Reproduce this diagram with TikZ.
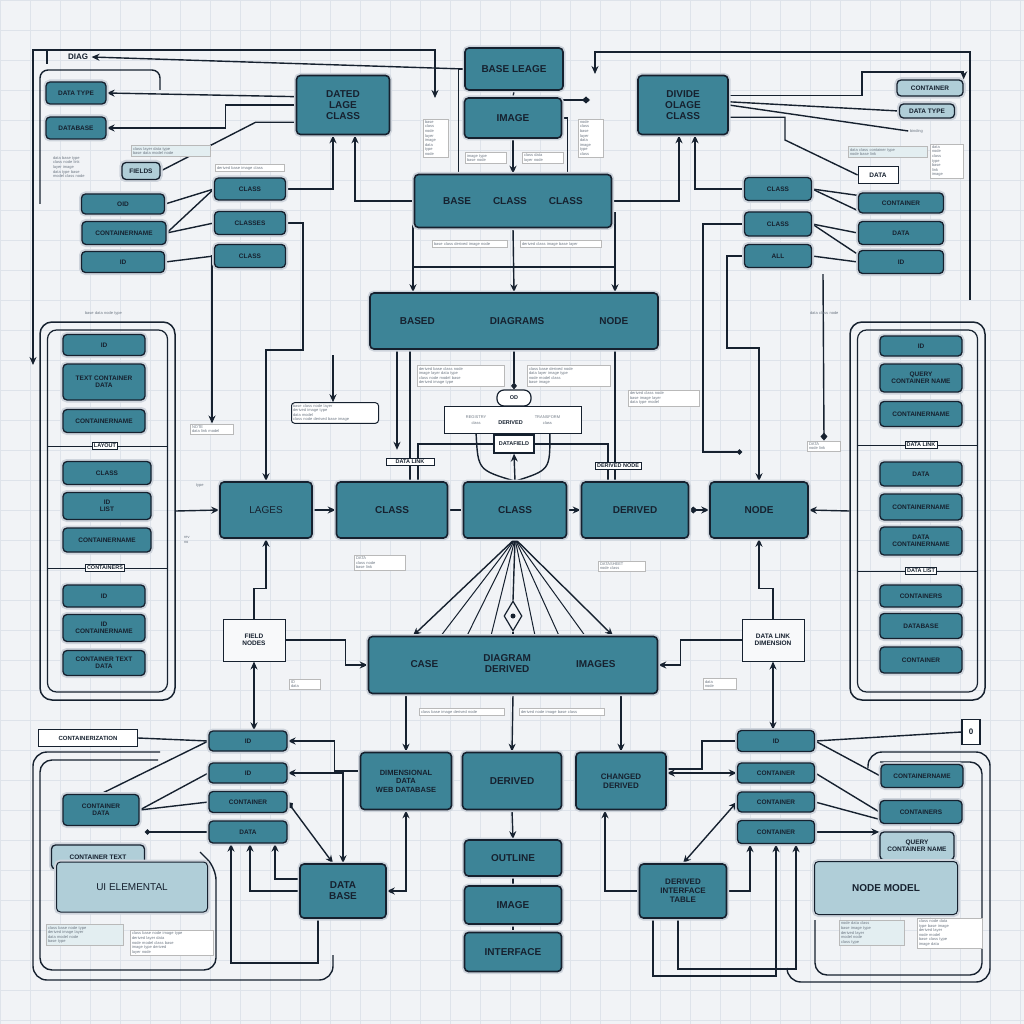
\documentclass[tikz,border=0pt]{standalone}
\usepackage{fontspec}
\setmainfont{Liberation Sans}
\usetikzlibrary{arrows.meta,shapes.geometric}
\definecolor{paper}{RGB}{241,243,246}
\definecolor{gridc}{RGB}{222,227,234}
\definecolor{boxc}{RGB}{61,132,151}
\definecolor{pale}{RGB}{176,206,216}
\definecolor{ink}{RGB}{22,33,47}
\definecolor{halo}{RGB}{206,212,220}
\definecolor{notec}{RGB}{110,120,132}
\pgfdeclarelayer{back}
\pgfdeclarelayer{wires}
\pgfsetlayers{back,wires,main}

\begin{document}
\begin{tikzpicture}[x=1pt,y=-1pt,>={Stealth[length=8pt,width=7pt]},font=\bfseries,
  box/.style={draw=ink,line width=1.6pt,fill=boxc,rounded corners=4pt,text=ink,align=center,inner sep=1pt,
    font=\bfseries\fontsize{10}{11}\selectfont,preaction={draw=halo,line width=5pt}},
  sbox/.style={box,line width=1.3pt,font=\bfseries\fontsize{6.5}{7}\selectfont},
  pbox/.style={box,fill=pale,line width=1pt},
  wbox/.style={draw=ink,line width=.8pt,fill=white,text=ink,align=center,inner sep=1.5pt,font=\bfseries\fontsize{5.5}{6}\selectfont},
  gbox/.style={wbox,fill=paper!50!white,line width=1pt,font=\bfseries\fontsize{6.5}{7.5}\selectfont},
  note/.style={draw=gray!55,line width=.5pt,fill=white,text=notec,font=\fontsize{4}{4.6}\selectfont,align=left,inner sep=1.5pt},
  notep/.style={note,fill=pale!35},
  ntext/.style={note,draw=none,fill=none},
  wire/.style={draw=ink,line width=1.4pt},
  lwire/.style={draw=ink,line width=1pt},
  frame/.style={draw=ink,line width=1.5pt,rounded corners=12pt}]
\useasboundingbox (0,0) rectangle (1024,1024);
\begin{pgfonlayer}{back}
\fill[paper] (0,0) rectangle (1024,1024);
\draw[gridc,step=30pt,line width=.6pt] (0,0) grid (1024,1024);
\end{pgfonlayer}

\node[frame,minimum width=135pt,minimum height=378pt] (lpanel) at (107.5,511) {};
\node[frame,rounded corners=9pt,line width=1.2pt,minimum width=120pt,minimum height=362pt] (lpin) at (107.5,511) {};
\node[frame,minimum width=135pt,minimum height=378pt] (rpanel) at (917.5,511) {};
\node[frame,rounded corners=9pt,line width=1.2pt,minimum width=120pt,minimum height=362pt] (rpin) at (917.5,511) {};

\node[box,minimum width=98pt,minimum height=42pt] (baselg) at (514,69) {BASE LEAGE};
\node[box,minimum width=97pt,minimum height=40pt] (img) at (513,118) {IMAGE};
\node[box,minimum width=93pt,minimum height=59pt] (dated) at (343,105) {DATED\\LAGE\\CLASS};
\node[box,minimum width=90pt,minimum height=59pt] (divide) at (683,105) {DIVIDE\\OLAGE\\CLASS};
\node[box,minimum width=197pt,minimum height=53pt] (bcc) at (513,201) {BASE\hspace{22pt}CLASS\hspace{22pt}CLASS};
\node[box,minimum width=288pt,minimum height=56pt] (bdn) at (514,321) {BASED\hspace{55pt}DIAGRAMS\hspace{55pt}NODE};
\node[box,minimum width=92pt,minimum height=56pt,font=\fontsize{10}{11}\selectfont] (lages) at (266,510) {LAGES};
\node[box,minimum width=111pt,minimum height=56pt] (cls1) at (392,510) {CLASS};
\node[box,minimum width=103pt,minimum height=56pt] (cls2) at (515,510) {CLASS};
\node[box,minimum width=107pt,minimum height=56pt] (derv) at (635,510) {DERIVED};
\node[box,minimum width=98pt,minimum height=56pt] (nd) at (759,510) {NODE};
\node[box,minimum width=289pt,minimum height=57pt] (case) at (513,665)
  {CASE\hspace{45pt}\begin{tabular}{@{}c@{}}DIAGRAM\\DERIVED\end{tabular}\hspace{45pt}IMAGES};
\node[box,minimum width=91pt,minimum height=57pt,font=\bfseries\fontsize{7.5}{8.5}\selectfont] (dim) at (406,781) {DIMENSIONAL\\DATA\\WEB DATABASE};
\node[box,minimum width=99pt,minimum height=57pt] (der2) at (512,781) {DERIVED};
\node[box,minimum width=90pt,minimum height=57pt,font=\bfseries\fontsize{8}{9}\selectfont] (chg) at (621,781) {CHANGED\\DERIVED};
\node[box,minimum width=97pt,minimum height=36pt] (outl) at (513,858) {OUTLINE};
\node[box,minimum width=97pt,minimum height=38pt] (img2) at (513,905) {IMAGE};
\node[box,minimum width=97pt,minimum height=39pt] (intf) at (513,952) {INTERFACE};
\node[box,minimum width=86pt,minimum height=54pt] (dbase) at (343,891) {DATA\\BASE};
\node[box,minimum width=87pt,minimum height=54pt,font=\bfseries\fontsize{8}{9}\selectfont] (dit) at (683,891) {DERIVED\\INTERFACE\\TABLE};

\foreach \n/\x/\y/\w/\h/\t in {tl1/76/93/60/22/DATA TYPE,tl2/76/128/60/22/DATABASE,
  lc1/123/204/83/20/OID,lc2/124/233/84/23/CONTAINERNAME,lc3/123/262/83/21/ID,
  mc1/250/189/71/22/CLASS,mc2/250/223/71/23/CLASSES,mc3/250/256/71/23/CLASS,
  rc1/778/189/67/23/CLASS,rc2/778/224/67/24/CLASS,rc3/778/256/67/23/ALL,
  rr1/901/203/85/20/CONTAINER,rr2/901/233/85/23/DATA,rr3/901/262/85/23/ID,
  lp1/104/345/82/21/ID,lp2/104/382/82/36/TEXT CONTAINER\\DATA,lp3/104/421/82/23/CONTAINERNAME,
  lp4/107/473/88/23/CLASS,lp5/107/506/88/27/ID\\LIST,lp6/107/540/88/24/CONTAINERNAME,
  lp7/104/596/82/22/ID,lp8/104/628/82/27/ID\\CONTAINERNAME,lp9/104/663/82/25/CONTAINER TEXT\\DATA,
  rp1/921/346/82/20/ID,rp2/921/378/82/28/QUERY\\CONTAINER NAME,rp3/921/414/82/25/CONTAINERNAME,
  rp4/921/474/82/24/DATA,rp5/921/507/82/26/CONTAINERNAME,rp6/921/541/82/28/DATA\\CONTAINERNAME,
  rp7/921/596/82/22/CONTAINERS,rp8/921/626/82/25/DATABASE,rp9/921/660/82/26/CONTAINER,
  bc1/248/741/78/20/ID,bc2/248/773/78/20/ID,bc3/248/802/78/21/CONTAINER,bc4/248/832/78/22/DATA,
  blc/101/810/76/31/CONTAINER\\DATA,
  br1/776/741/77/21/ID,br2/776/773/77/20/CONTAINER,br3/776/802/77/20/CONTAINER,br4/776/832/77/23/CONTAINER,
  brr1/922/776/82/23/CONTAINERNAME,brr2/921/812/82/23/CONTAINERS}
  \node[sbox,minimum width=\w pt,minimum height=\h pt] (\n) at (\x,\y) {\t};

\foreach \n/\x/\y/\w/\h/\t in {tlf/141/171/38/17/FIELDS,trc/930/88/66/16/CONTAINER,trd/927/111/55/14/DATA TYPE,
  blt/98/857/93/24/CONTAINER TEXT,brr3/917/846/74/28/QUERY\\CONTAINER NAME}
  \node[pbox,sbox,fill=pale,minimum width=\w pt,minimum height=\h pt] (\n) at (\x,\y) {\t};
\node[pbox,minimum width=151pt,minimum height=50pt,font=\fontsize{10}{11}\selectfont] (blui) at (132,887) {UI ELEMENTAL};
\node[pbox,minimum width=143pt,minimum height=53pt] (brnm) at (886,888) {NODE MODEL};

\node[font=\bfseries\fontsize{8}{9}\selectfont,text=ink] (diag) at (78,57) {DIAG};
\node[wbox,minimum width=40pt,minimum height=17pt,font=\bfseries\fontsize{6.5}{7}\selectfont] (trdata) at (878,175) {DATA};
\node[wbox,minimum width=99pt,minimum height=17pt,line width=1.2pt,font=\bfseries\fontsize{6}{7}\selectfont] (blab) at (88,738) {CONTAINERIZATION};
\node[wbox,minimum width=18pt,minimum height=25pt,line width=1.2pt,font=\bfseries\fontsize{8}{9}\selectfont] (zero) at (971,732) {0};
\node[gbox,minimum width=62pt,minimum height=42pt] (fldn) at (254,640) {FIELD\\NODES};
\node[gbox,minimum width=62pt,minimum height=42pt] (dlk) at (773,640) {DATA LINK\\DIMENSION};
\node[wbox,rounded corners=7pt,minimum width=34pt,minimum height=16pt,line width=1.2pt] (od) at (514,398) {OD};
\node[note,draw=ink,line width=.8pt,minimum width=137pt,minimum height=27pt,align=center] (dnote) at (513,420)
  {\shortstack{REGISTRY\\class}\hspace{12pt}{\bfseries\fontsize{5.5}{6}\selectfont\color{ink}DERIVED}\hspace{12pt}\shortstack{TRANSFORM\\class}};
\node[wbox,minimum width=40pt,minimum height=18pt,line width=1.2pt] (dlab) at (514,444) {DATAFIELD};
\node[wbox,minimum width=48pt] (nlab1) at (410,462) {DATA LINK};
\node[wbox,minimum width=46pt] (nlab2) at (618,466) {DERIVED NODE};
\node[diamond,draw=ink,line width=1.2pt,fill=paper,aspect=.6,minimum width=18pt,minimum height=30pt,inner sep=0pt] (nib) at (513,616) {};
\fill[ink] (nib) circle (2.5pt);

\foreach \n/\y/\t in {lpl1/446/LAYOUT,lpl2/568/CONTAINERS}
  \node[wbox] (\n) at (105,\y) {\t};
\foreach \n/\y/\t in {rpl1/445/DATA LINK,rpl2/571/DATA LIST}
  \node[wbox] (\n) at (921,\y) {\t};
\foreach \n in {lpl1,lpl2} \draw[lwire] (lpin.west |- \n) -- (\n.west) (\n.east) -- (lpin.east |- \n);
\foreach \n in {rpl1,rpl2} \draw[lwire] (rpin.west |- \n) -- (\n.west) (\n.east) -- (rpin.east |- \n);

\foreach \n/\x/\y/\w/\t in {n3/250/168/66/derived base image class,
  n4/436/138/22/base\\class\\node\\layer\\image\\data\\type\\node,
  n5/591/138/22/node\\class\\base\\layer\\data\\image\\type\\class,
  n6/486/158/38/image type\\base node,n7/543/158/38/class data\\layer node,
  n8/470/244/72/base class derived image node,n9/561/244/78/derived class image base layer,
  n12/212/429/40/NOTE\\data link model,
  n13/461/376/84/derived base class node\\image layer data type\\class node model base\\derived image type,
  n15/569/376/80/class base derived node\\data layer image type\\node model class\\base image,
  n17/664/398/68/derived class node\\base image layer\\data type model,
  n14/824/446/30/DATA\\node link,n18/380/563/48/DATA\\class node\\base link,
  n19/622/566/44/DATASHEET\\node class,n20/305/684/28/ID\\data,
  n21/462/712/82/class base image derived node,n22/562/712/82/derived node image base class,
  n23/720/684/30/data\\node,
  n25/947/161/30/data\\node\\class\\type\\base\\link\\image,
  n29/172/943/80/class base node image type\\derived layer data\\node model class base\\image type derived\\layer node,
  n31/950/933/62/class node data\\type base image\\derived layer\\node model\\base class type\\image data}
  \node[note,text width=\w pt] (\n) at (\x,\y) {\t};
\foreach \n/\x/\y/\w/\t in {n1/171/151/76/class layer data type\\base data model node,
  n24/888/152/76/data class container type\\node base link,
  n28/85/935/74/class base node type\\derived image layer\\data model node\\base type,
  n30/872/933/62/node data class\\base image type\\derived layer\\model node\\class type}
  \node[notep,text width=\w pt] (\n) at (\x,\y) {\t};
\foreach \n/\x/\y/\w/\t in {n26/840/313/60/data class node,n27/120/313/70/base data node type,
  n32/81/167/56/data base type\\class node link\\layer image\\data type base\\model class node,
  n33/195/540/22/rev\\no,n35/208/486/24/type,nbind/925/131/30/binding}
  \node[ntext,text width=\w pt] (\n) at (\x,\y) {\t};
\node[note,draw=ink,line width=1pt,text width=84pt,rounded corners=3pt] (nfold) at (335,413)
  {base class node layer\\derived image type\\data model\\class node derived base image};

\foreach \n/\x/\y in {fa/33/365,ftop/435/50,fb/435/98,fc/970/300,fright/595/52,fd/595/74,fdia/590/100,
  f1/303/350,f2/333/355,ftr1/862/72,ftr4/785/140,ftr5/727/348,ftr6/703/452,ftr7/742/452,fbl1/145/832}
  \coordinate (\n) at (\x,\y);

\begin{pgfonlayer}{wires}
\draw[wire,rounded corners=8pt] (40,204) -- (40,70) -- (160,70) -- (160,90);
\draw[wire] (47,50) -- (47,64);
\draw[wire,rounded corners=14pt] (160,752) -- (33,752) -- (33,980) -- (333,980) -- (333,955);
\draw[wire,rounded corners=12pt] (158,760) -- (40,760) -- (40,970) -- (216,970) -- (216,868) -- (200,852);
\draw[wire,rounded corners=14pt] (868,768) -- (868,752) -- (990,752) -- (990,982) -- (787,982) -- (787,968);
\draw[wire,rounded corners=12pt] (880,762) -- (982,762) -- (982,975) -- (815,975) -- (815,920);

\draw[wire,<->] (fa) |- (ftop) -- (fb);
\draw[wire,->] (baselg.west) -- (diag.east);
\draw[wire,->] (fc) |- (fright) -- (fd);
\draw[wire] (baselg.south) -- (img.north);
\draw[wire,->] (img.south) -- (bcc.north);
\draw[wire] (baselg.west) -| ([xshift=45pt]bcc.north west);
\draw[wire] (img.east) -| ([xshift=-45pt]bcc.north east);
\draw[wire,-{Diamond[length=8pt,width=7pt]}] (img.east |- fdia) -- (fdia);

\draw[wire,->] (dated.170) -- (tl1.east);
\draw[wire,->] (dated.west) -- ++(-70,0) |- (tl2.east);
\draw[wire] (dated.200) -- ++(-40,0) -- (tlf.east);
\draw[wire,->] (mc1.east) -| ([xshift=-10pt]dated.south);
\draw[wire,->] (bcc.west) -| ([xshift=12pt]dated.south);
\draw[wire] (lc1.east) -- (mc1.west);
\draw[wire] (lc2.east) -- (mc1.west);
\draw[wire] (lc2.east) -- (mc2.west);
\draw[wire] (lc3.east) -- (mc3.west);
\draw[wire,->] (mc2.east) -| (f1) -| (lages.north);
\draw[wire,->] (mc3.west) -| (n12.north);
\draw[wire,->] (f2) -- (f2 |- nfold.north);

\draw[wire,->] (divide.12) -| (ftr1) -| (trc.north east);
\draw[wire] (divide.4) -- (trd.west);
\draw[wire] (divide.east) -- (nbind.west);
\draw[wire] (divide.-15) -| (ftr4) -- (trdata.west);
\draw[wire,->] (bcc.east) -| ([xshift=-4pt]divide.south);
\draw[wire,->] (rc1.west) -| ([xshift=12pt]divide.south);
\draw[wire] (rc1.east) -- (rr1.170);
\draw[wire] (rc1.east) -- (rr1.190);
\draw[wire] (rc2.east) -- (rr2.west);
\draw[wire] (rc2.east) -- (rr3.170);
\draw[wire] (rc3.east) -- (rr3.west);
\draw[wire,->] (rc3.west) -| (ftr5) -| (nd.north);
\draw[wire,-{Circle[length=5pt]}] (rc2.west) -| (ftr6) -- (ftr7);
\draw[wire,-{Diamond[length=8pt,width=7pt]}] ([xshift=-78pt]rr3.south) -- (n14.north);

\coordinate (hub) at (513,267);
\draw[wire,->] (bcc.south) -- (bdn.north);
\draw[wire] ([xshift=-101pt]bdn.north |- hub) -- ([xshift=101pt]bdn.north |- hub);
\draw[wire,->] ([yshift=-12pt]bcc.west) -| ([xshift=-101pt]bdn.north);
\draw[wire,->] ([yshift=-12pt]bcc.east) -| ([xshift=101pt]bdn.north);
\draw[wire,-{Diamond[length=7pt,width=6pt]}] (bdn.south) -- (od.north);
\draw[wire] (od.south) -- (dnote.north);
\draw[wire,->] (cls2.north) -- (dlab.south);
\draw[wire] (cls2.north) .. controls (478,470) .. ([xshift=32pt]dnote.south west);
\draw[wire] (cls2.north) .. controls (550,470) .. ([xshift=-32pt]dnote.south east);
\draw[wire] ([xshift=26pt]cls1.north) |- (dlab.west);
\draw[wire] ([xshift=-27pt]derv.north) |- (dlab.east);
\draw[wire,->] ([xshift=-117pt]bdn.south) -- ++(0,100);
\draw[wire] ([xshift=-104pt]bdn.south) -- ([xshift=18pt]cls1.north);
\draw[wire] ([xshift=101pt]bdn.south) -- ([xshift=-20pt]derv.north);

\draw[wire,->] (lpanel.east) -- (lages.west);
\draw[wire,->] (lages.east) -- (cls1.west);
\draw[wire] (cls1.east) -- (cls2.west);
\draw[wire,->] (cls2.east) -- (derv.west);
\draw[wire,{Diamond[length=8pt,width=7pt]}-{Stealth[length=8pt,width=7pt]}] (derv.east) -- (nd.west);
\draw[wire,->] (rpanel.west) -- (nd.east);

\foreach \s in {-72,-46,-22,22,46,72} \draw[lwire] (cls2.south) -- ([xshift=\s pt]case.north);
\draw[wire] (cls2.south) -- (nib.north);
\draw[wire] (nib.south) -- (case.north);
\draw[wire,->] (cls2.south) -- ([xshift=-100pt]case.north);
\draw[wire,->] (cls2.south) -- ([xshift=100pt]case.north);

\draw[wire,->] (dim.north |- case.south) -- (dim.north);
\draw[wire,->] (case.south) -- (der2.north);
\draw[wire,->] (chg.north |- case.south) -- (chg.north);
\draw[wire,<-] (case.west) -- ++(-22,0) |- (fldn.east);
\draw[wire,<-] (case.east) -- ++(22,0) |- (dlk.west);
\draw[wire,->] (fldn.north) -- ++(0,-30) -| (lages.south);
\draw[wire,->] (dlk.north) -- ++(0,-30) -| (nd.south);
\draw[wire,<->] (fldn.south) -- (fldn.south |- bc1.north);
\draw[wire,<->] (dlk.south) -- (dlk.south |- br1.north);
\draw[wire,->] (der2.south) -- (outl.north);
\draw[wire] (outl.south) -- (img2.north);
\draw[wire] (img2.south) -- (intf.north);
\draw[wire,<->] (dbase.east) -| (dim.south);
\draw[wire,->] (dit.west) -| ([xshift=-16pt]chg.south);

\draw[wire] (blab.east) -- (bc1.west);
\draw[wire] (bc1.west) -- (blc.north);
\draw[wire] (bc2.west) -- (blc.east);
\draw[wire] (bc3.west) -- (blc.east);
\draw[wire,{Circle[length=5pt]}-] (fbl1) -- (bc4.west);
\draw[wire,->] ([yshift=10pt]dim.west) -- ++(-25,0) |- (bc1.east);
\draw[wire,<->] (bc2.east) -| (dbase.north);
\draw[wire,{Diamond[length=8pt,width=7pt]}-{Stealth[length=8pt,width=7pt]}] (bc3.east) -- ([xshift=-10pt]dbase.north);
\draw[wire,->] (dbase.west) -| ([xshift=2pt]bc4.south);
\draw[wire,->] ([yshift=12pt]dbase.west) -| ([xshift=27pt]bc4.south);
\draw[wire,->] ([xshift=-25pt]dbase.south) -- ++(0,44) -| ([xshift=-17pt]bc4.south);

\draw[wire] (br1.east) -- (zero.west);
\draw[wire] (br1.east) -- (brr1.west);
\draw[wire] (br2.east) -- (brr2.west);
\draw[wire] (br3.east) -- (brr2.190);
\draw[wire,->] (br4.east) -- (br4.east -| brr3.west);
\draw[wire,<->] (br2.west) -- (br2.west -| chg.east);
\draw[wire,<->] (br3.west) -- (dit.north);
\draw[wire] (br1.west) -- ++(-35,0) |- ([yshift=12pt]chg.east);
\draw[wire,->] (dit.east) -| ([xshift=-26pt]br4.south);
\draw[wire,->] ([xshift=-5pt]dit.south) -- ++(0,50) -| ([xshift=20pt]br4.south);
\draw[wire,->] ([xshift=-30pt]dit.south) -- ++(0,57) -| (br4.south);
\end{pgfonlayer}
\end{tikzpicture}
\end{document}
